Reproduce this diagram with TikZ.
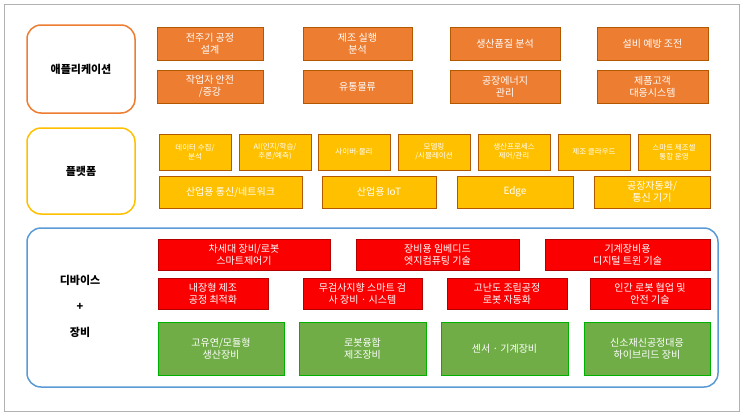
\documentclass[tikz,border=0pt]{standalone}
\usepackage{fontspec}
\setmainfont{Noto Sans CJK KR}
\begin{document}
\begin{tikzpicture}[x=1pt,y=-1pt,
  bx/.style={draw=#1!70!black,line width=0.5pt,align=center,text=white,font=\fontsize{10}{12}\selectfont,inner sep=0pt},
  org/.style={bx=orange,fill={rgb,255:red,237;green,125;blue,49}},
  yel/.style={bx=orange,fill={rgb,255:red,255;green,192;blue,0}},
  red/.style={bx=red,fill={rgb,255:red,250;green,0;blue,0}},
  grn/.style={bx=green,fill={rgb,255:red,112;green,173;blue,71}},
  lab/.style={align=center,font=\bfseries\fontsize{11}{14}\selectfont}]
\useasboundingbox (0,0) rectangle (743,415);
\fill[white] (0,0) rectangle (743,415);
\draw[gray!60] (4,4) rectangle (739,411);
% left labels
\node[draw={rgb,255:red,237;green,125;blue,49},line width=1.5pt,rounded corners=14pt,minimum width=108,minimum height=88,lab] (app) at (81,69) {애플리케이션};
\node[draw={rgb,255:red,255;green,192;blue,0},line width=1.5pt,rounded corners=14pt,minimum width=108,minimum height=86,lab] (plat) at (81,171) {플랫폼};
\node[draw={rgb,255:red,91;green,155;blue,213},line width=1.5pt,rounded corners=14pt,minimum width=691,minimum height=159] (dev) at (372.5,307.5) {};
\node[lab,font=\bfseries\fontsize{11}{26}\selectfont] (devl) at (80,306) {디바이스\\+\\장비};
% orange
\foreach \a/\b/\n/\t in {157/263/o1/{전주기 공정\\설계},303/412/o2/{제조 실행\\분석},450/560/o3/{생산품질 분석},597/708/o4/{설비 예방 조전}}{
 \node[org,minimum width=\b-\a,minimum height=33] (\n) at ({(\a+\b)/2},43.5) {\t};}
\foreach \a/\b/\n/\t in {157/263/o5/{작업자 안전\\/증강},303/412/o6/{유통물류},450/560/o7/{공장에너지\\관리},597/708/o8/{제품고객\\대응시스템}}{
 \node[org,minimum width=\b-\a,minimum height=33] (\n) at ({(\a+\b)/2},86.5) {\t};}
% yellow small
\foreach \a/\n/\t in {159/y1/{데이터 수집/\\분석},239/y2/{AI(인지/학습/\\추론/예측)},318/y3/{사이버-물리},398/y4/{모델링\\/시뮬레이션},478/y5/{생산프로세스\\제어/관리},558/y6/{제조 클라우드},638/y7/{스마트 제조셀\\통합 운영}}{
 \node[yel,font=\fontsize{7.5}{9}\selectfont,minimum width=72,minimum height=36] (\n) at (\a+36,152) {\t};}
\foreach \a/\b/\n/\t in {159/302/y8/{산업용 통신/네트워크},322/436/y9/{산업용 IoT},457/573/y10/{Edge},594/710/y11/{공장자동화/\\통신 기기}}{
 \node[yel,minimum width=\b-\a,minimum height=32] (\n) at ({(\a+\b)/2},192) {\t};}
% red
\foreach \a/\b/\n/\t in {158/330/r1/{차세대 장비/로봇\\스마트제어기},356/519/r2/{장비용 임베디드\\엣지컴퓨팅 기술},545/710/r3/{기계장비용\\디지털 트윈 기술}}{
 \node[red,minimum width=\b-\a,minimum height=31] (\n) at ({(\a+\b)/2},254.5) {\t};}
\foreach \a/\b/\n/\t in {158/268/r4/{내장형 제조\\공정 최적화},303/422/r5/{무검사지향 스마트 검\\사 장비 · 시스템},447/567/r6/{고난도 조립공정\\로봇 자동화},590/710/r7/{인간 로봇 협업 및\\안전 기술}}{
 \node[red,minimum width=\b-\a,minimum height=31] (\n) at ({(\a+\b)/2},293.5) {\t};}
% green
\foreach \a/\b/\n/\t in {158/284/g1/{고유연/모듈형\\생산장비},299/426/g2/{로봇융합\\제조장비},441/568/g3/{센서 · 기계장비},584/710/g4/{신소재신공정대응\\하이브리드 장비}}{
 \node[grn,minimum width=\b-\a,minimum height=53] (\n) at ({(\a+\b)/2},349) {\t};}
\end{tikzpicture}
\end{document}
